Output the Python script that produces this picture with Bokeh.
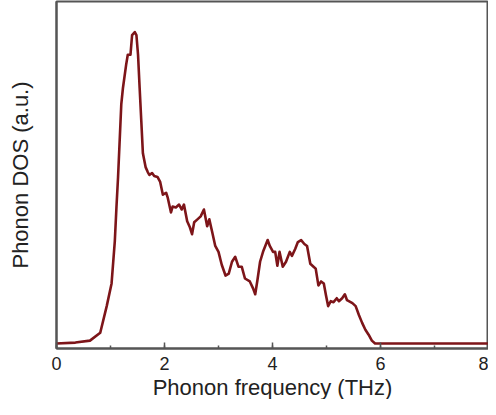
from bokeh.plotting import figure
from bokeh.models import Range1d, SingleIntervalTicker, ColumnDataSource, Title
from bokeh.embed import file_html
from bokeh.resources import INLINE

freq = [0.00, 0.35, 0.62, 0.81, 0.93, 1.02, 1.08, 1.11, 1.14, 1.20, 1.23, 1.29, 1.32, 1.37,
        1.40, 1.45, 1.48, 1.51, 1.54, 1.57, 1.60, 1.65, 1.69, 1.72, 1.77, 1.81, 1.87, 1.92,
        1.97, 2.03, 2.06, 2.12, 2.15, 2.21, 2.27, 2.32, 2.36, 2.42, 2.47, 2.51, 2.55, 2.61,
        2.67, 2.73, 2.79, 2.83, 2.88, 2.94, 3.00, 3.06, 3.13, 3.19, 3.25, 3.31, 3.37, 3.43,
        3.49, 3.58, 3.64, 3.68, 3.72, 3.77, 3.83, 3.91, 3.95, 4.01, 4.05, 4.09, 4.13, 4.19,
        4.25, 4.32, 4.36, 4.42, 4.47, 4.53, 4.59, 4.64, 4.70, 4.76, 4.80, 4.85, 4.90, 4.95,
        4.99, 5.03, 5.08, 5.13, 5.19, 5.23, 5.29, 5.34, 5.38, 5.48, 5.54, 5.60, 5.66, 5.72,
        5.78, 5.84, 5.90, 8.00]
dos = [0.00, 0.01, 0.03, 0.11, 0.38, 0.61, 1.04, 1.38, 1.69, 2.43, 2.59, 2.83, 2.93, 2.93,
       3.13, 3.16, 3.13, 2.93, 2.59, 2.26, 1.93, 1.79, 1.74, 1.71, 1.73, 1.70, 1.69, 1.64,
       1.51, 1.53, 1.48, 1.33, 1.39, 1.38, 1.41, 1.36, 1.41, 1.24, 1.18, 1.11, 1.23, 1.26,
       1.29, 1.36, 1.19, 1.26, 1.14, 0.99, 0.93, 0.80, 0.69, 0.71, 0.83, 0.88, 0.78, 0.78,
       0.66, 0.63, 0.56, 0.50, 0.64, 0.83, 0.94, 1.05, 0.99, 0.93, 0.93, 0.79, 0.93, 0.78,
       0.83, 0.93, 0.89, 0.96, 1.03, 1.05, 1.01, 0.99, 0.81, 0.78, 0.76, 0.59, 0.63, 0.61,
       0.49, 0.38, 0.43, 0.42, 0.46, 0.43, 0.46, 0.50, 0.44, 0.41, 0.38, 0.29, 0.21, 0.14,
       0.09, 0.03, 0.00, 0.00]

x_title = "Phonon frequency (THz)"
y_title = "Phonon DOS (a.u.)"

FONT = "Liberation Sans"
AX = "#555555"
TXT = "#222222"

p = figure(width=488, height=399, output_backend="svg", toolbar_location=None,
           x_range=Range1d(0, 8), y_range=Range1d(-0.05, 3.47),
           min_border_left=56, min_border_right=0, min_border_top=1, min_border_bottom=50)

src = ColumnDataSource(dict(x=freq, y=dos))
p.line("x", "y", source=src, line_color="#7d1519", line_width=2.6, line_join="round")

p.grid.visible = False
p.outline_line_color = AX
p.outline_line_width = 2
p.background_fill_color = "white"
p.border_fill_color = "white"

xa = p.xaxis[0]
xa.ticker = SingleIntervalTicker(interval=2, num_minor_ticks=2)
xa.axis_line_color = AX
xa.axis_line_width = 2
xa.major_tick_line_color = AX
xa.minor_tick_line_color = AX
xa.major_tick_line_width = 1.5
xa.minor_tick_line_width = 1.5
xa.major_tick_in = 6
xa.major_tick_out = 0
xa.minor_tick_in = 3
xa.minor_tick_out = 0
xa.major_label_text_font = FONT
xa.major_label_text_font_size = "18px"
xa.major_label_text_color = TXT
xa.major_label_standoff = 8

ya = p.yaxis[0]
ya.ticker = []
ya.axis_line_color = AX
ya.axis_line_width = 2
ya.major_tick_line_color = None
ya.minor_tick_line_color = None
ya.axis_label = y_title
ya.axis_label_text_font = FONT
ya.axis_label_text_font_size = "22px"
ya.axis_label_text_font_style = "normal"
ya.axis_label_text_color = TXT
ya.axis_label_standoff = 24

p.add_layout(Title(text=x_title, align="center", text_font=FONT, text_font_size="22px",
                   text_font_style="normal", text_color=TXT, standoff=0), "below")

open("out.html", "w").write(file_html(p, INLINE))
